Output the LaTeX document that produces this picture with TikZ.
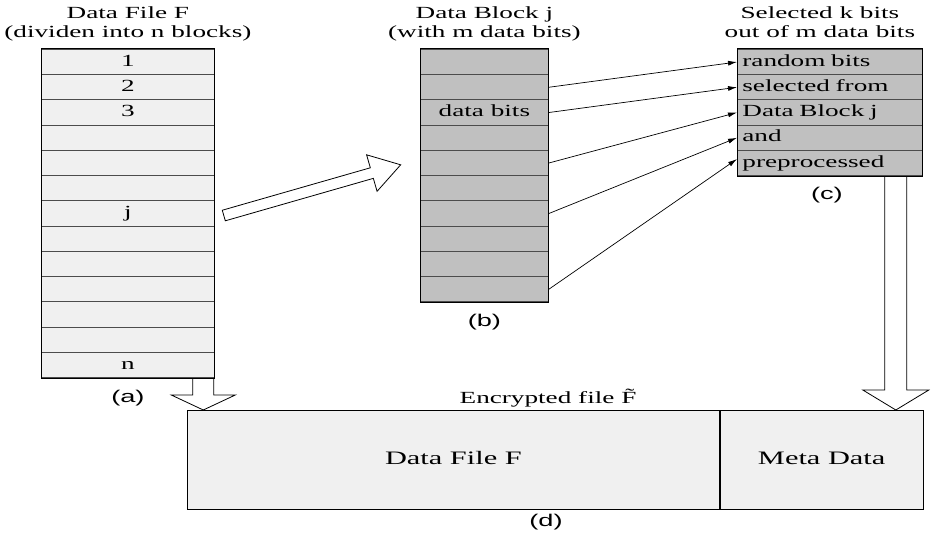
\documentclass[tikz,border=0pt]{standalone}
\usepackage{fontspec}
\setmainfont{Liberation Serif}[FakeStretch=1.6]
\newfontfamily\capfont{Liberation Sans}[FakeStretch=1.6]
\usepackage{tikz}
\usetikzlibrary{calc}
\usetikzlibrary{arrows.meta}

\definecolor{paleg}{RGB}{240,240,240}
\definecolor{midg}{RGB}{192,192,192}

\begin{document}
\begin{tikzpicture}[x=1pt, y=-1pt,
    every node/.append style={inner sep=0pt},
    font=\fontsize{17}{19}\selectfont,
    cell/.style={draw=black!70, line width=.8pt, minimum height=25.25pt, text height=12pt, text depth=4pt, anchor=north west},
    filecell/.style={cell, fill=paleg, minimum width=173pt},
    blockcell/.style={cell, fill=midg, minimum width=128pt},
    selcell/.style={cell, fill=midg, text width=175pt, inner xsep=5pt, align=left},
    bigcell/.style={cell, draw=black, fill=paleg, minimum height=99pt, text height=13pt, font=\fontsize{19}{21}\selectfont},
    outline/.style={draw=black, line width=1pt},
    hollow/.style={draw=black, line width=.8pt, fill=white, line join=miter},
    caption/.style={font=\capfont\fontsize{17}{19}\selectfont},
    bitarrow/.style={-{Latex[length=9pt, width=5pt]}, line width=.7pt}]
    \useasboundingbox (0,0) rectangle (931,534);

    \foreach \i/\t in {1/1,2/2,3/3,4/{},5/{},6/{},7/j,8/{},9/{},10/{},11/{},12/{},13/n}
        \node[filecell] (a\i) at (41, {49+(\i-1)*25.25}) {\t};
    \foreach \i/\t in {1/{},2/{},3/data bits,4/{},5/{},6/{},7/{},8/{},9/{},10/{}}
        \node[blockcell] (b\i) at (420, {49+(\i-1)*25.25}) {\t};
    \foreach \i/\t in {1/random bits,2/selected from,3/Data Block j,4/and,5/preprocessed}
        \node[selcell] (c\i) at (737, {49+(\i-1)*25.25}) {\t};

    \node[bigcell, minimum width=532pt] (dfile) at (187,410) {Data File F};
    \node[bigcell, minimum width=203pt] (meta) at (dfile.north east) {Meta Data};

    \node[anchor=south, align=center] (ttla) at ($(a1.north)+(0,-6)$) {Data File F\strut\\(dividen into n blocks)\strut};
    \node[anchor=south, align=center] (ttlb) at ($(b1.north)+(0,-6)$) {Data Block j\strut\\(with m data bits)\strut};
    \node[anchor=south, align=center] (ttlc) at ($(c1.north)+(-10,-6)$) {Selected k bits\strut\\out of m data bits\strut};
    \node (enc) at (548,398) {Encrypted file \~{F}};

    \node[caption] (capa) at ($(a13.south)+(0,20)$) {(a)};
    \node[caption] (capb) at ($(b10.south)+(0,20)$) {(b)};
    \node[caption] (capc) at ($(c5.south)+(-3,19)$) {(c)};
    \node[caption] (capd) at (546,522) {(d)};

    \draw[bitarrow] (b2.east) -- (c1.west);
    \draw[bitarrow] (b3.east) -- (c2.west);
    \draw[bitarrow] (b5.east) -- (c3.west);
    \draw[bitarrow] (b7.east) -- (c4.west);
    \draw[bitarrow] (b10.east) -- ($(c5.west)+(0,-4)$);

    \coordinate (jtail) at ($(a7.east)+(9,2)$);
    \begin{scope}[shift={(jtail)}, rotate=16]
        \draw[hollow] (0,5.5) -- (154,5.5) -- (154,19) -- (184,0) -- (154,-19) -- (154,-5.5) -- (0,-5.5) -- cycle;
    \end{scope}

    \coordinate (atop) at ($(a13.south east)+(-11.5,0)$);
    \coordinate (atip) at (atop |- dfile.north);
    \draw[hollow] let \p1=(atop), \p2=(atip) in
        (\x1-10.5pt,\y1) -- (\x1-10.5pt,\y2+15pt) -- (\x1-32pt,\y2+15pt) -- (\x2,\y2)
        -- (\x1+32pt,\y2+15pt) -- (\x1+10.5pt,\y2+15pt) -- (\x1+10.5pt,\y1);
    \coordinate (ctop) at ($(c5.south east)+(-27,0)$);
    \coordinate (ctip) at (ctop |- meta.north);
    \draw[hollow] let \p1=(ctop), \p2=(ctip) in
        (\x1-11pt,\y1) -- (\x1-11pt,\y2+20pt) -- (\x1-33pt,\y2+20pt) -- (\x2,\y2)
        -- (\x1+33pt,\y2+20pt) -- (\x1+11pt,\y2+20pt) -- (\x1+11pt,\y1);

    \draw[outline] (a1.north west) rectangle (a13.south east);
    \draw[outline] (b1.north west) rectangle (b10.south east);
    \draw[outline] (c1.north west) rectangle (c5.south east);
\end{tikzpicture}
\end{document}
